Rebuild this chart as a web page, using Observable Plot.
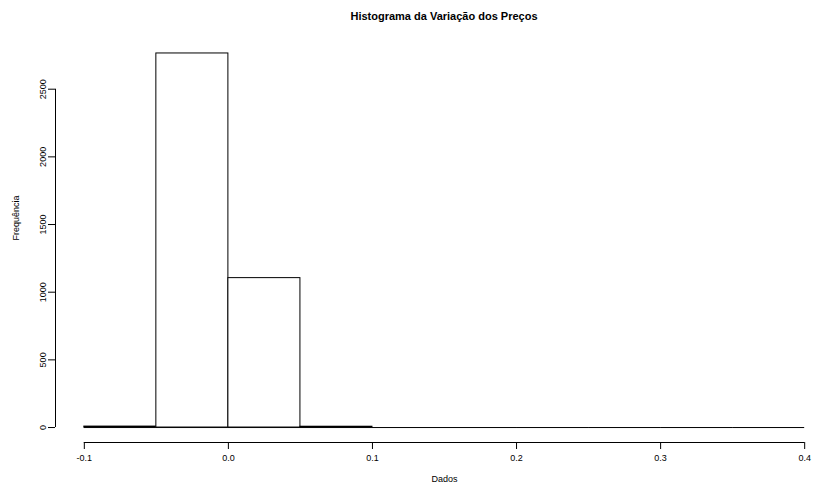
<!DOCTYPE html>
<html>
<head>
<meta charset="utf-8">
<script src="https://cdn.jsdelivr.net/npm/d3@7"></script>
<script src="https://cdn.jsdelivr.net/npm/@observablehq/plot@0.6"></script>
<style>
  html, body { margin: 0; padding: 0; background: #fff; color: #000; }
  body { width: 814px; height: 487px; overflow: hidden; font-family: "Liberation Sans", Arial, sans-serif; }
  #title { width: 814px; height: 31px; line-height: 32px; box-sizing: border-box; padding-left: 74px;
           text-align: center; font-weight: bold; font-size: 11px; }
  svg { display: block; }
</style>
</head>
<body>
<div id="title"></div>
<div id="chart"></div>
<script>
const titleText = "Histograma da Variação dos Preços";
const xLabel = "Dados";
const yLabel = "Frequência";
const binStarts = [-0.1, -0.05, 0.0, 0.05, 0.1, 0.15, 0.2, 0.25, 0.3, 0.35];
const binEnds   = [-0.05, 0.0, 0.05, 0.1, 0.15, 0.2, 0.25, 0.3, 0.35, 0.4];
const counts    = [7, 2764, 1104, 6, 0, 0, 0, 0, 0, 0];
const xTicks = [-0.1, 0.0, 0.1, 0.2, 0.3, 0.4];
const xTickLabels = ["-0.1", "0.0", "0.1", "0.2", "0.3", "0.4"];
const yTicks = [0, 500, 1000, 1500, 2000, 2500];
const yTickLabels = ["0", "500", "1000", "1500", "2000", "2500"];

document.getElementById("title").textContent = titleText;

const bins = binStarts.map((s, i) => ({x1: s, x2: binEnds[i], count: counts[i]}));

const xSpan = xTicks[xTicks.length - 1] - xTicks[0];
const xDomain = [xTicks[0] - 0.04 * xSpan, xTicks[xTicks.length - 1] + 0.04 * xSpan];
const yMax = d3.max(counts);
const yDomain = [-0.04 * yMax, 1.04 * yMax];

const chart = Plot.plot({
  width: 814,
  height: 456,
  marginLeft: 55,
  marginRight: -19,
  marginTop: 7,
  marginBottom: 45,
  style: {fontFamily: "'Liberation Sans', Arial, sans-serif", fontSize: "9px", color: "#000", background: "#fff"},
  x: {domain: xDomain},
  y: {domain: yDomain},
  marks: [
    Plot.ruleY(bins, {y: 0, x1: "x1", x2: "x2", stroke: "#000", strokeWidth: 1}),
    Plot.rect(bins, {x1: "x1", x2: "x2", y1: 0, y2: "count", fill: "white", stroke: "#000", strokeWidth: 1, inset: 0}),
    Plot.ruleX([xDomain[0]], {y1: yTicks[0], y2: yTicks[yTicks.length - 1], stroke: "#000", strokeWidth: 1}),
    Plot.ruleY([yDomain[0]], {x1: xTicks[0], x2: xTicks[xTicks.length - 1], stroke: "#000", strokeWidth: 1}),
    Plot.axisY(yTicks, {anchor: "left", tickSize: 7, tickRotate: -90, strokeWidth: 1, stroke: "#000",
      tickFormat: (d, i) => yTickLabels[i], fontSize: 9, label: null}),
    Plot.axisX(xTicks, {anchor: "bottom", tickSize: 7, tickPadding: 5, stroke: "#000",
      tickFormat: (d, i) => xTickLabels[i], fontSize: 9, label: null}),
    Plot.text([yLabel], {frameAnchor: "left", dx: -39, rotate: -90, fontSize: 9, fill: "#000"}),
    Plot.text([xLabel], {frameAnchor: "bottom", dy: 39, fontSize: 9, fill: "#000"})
  ]
});
document.getElementById("chart").appendChild(chart);
</script>
</body>
</html>
